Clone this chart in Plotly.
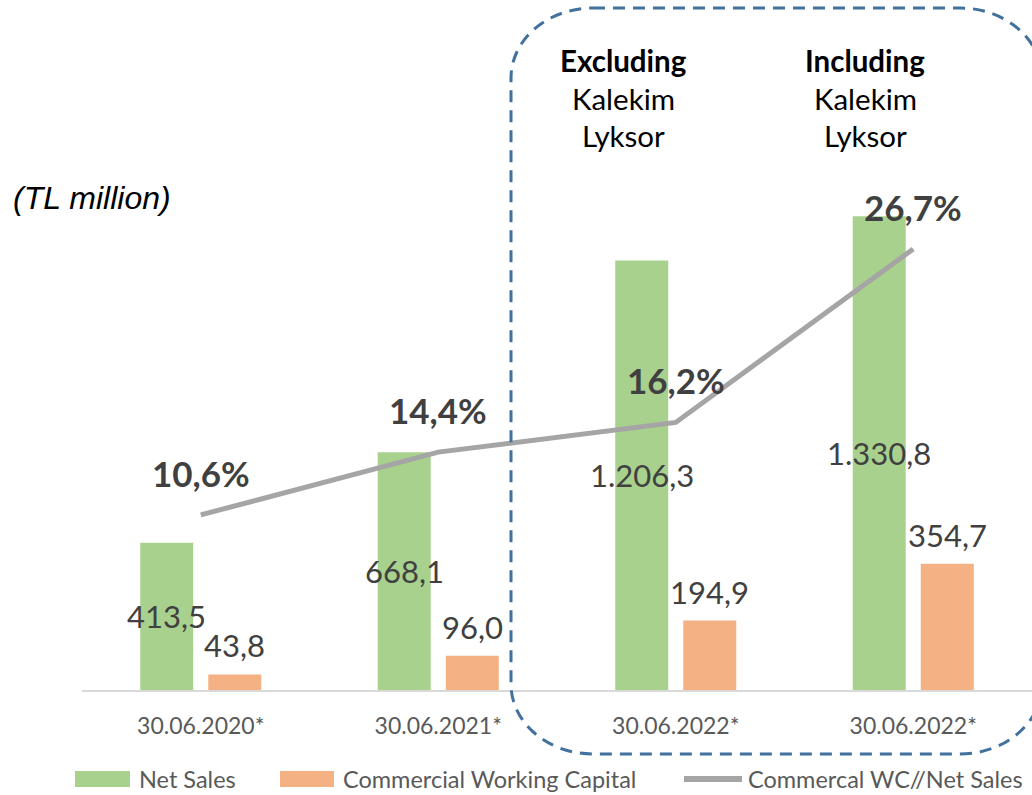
import plotly.graph_objects as go

# Data (TL million)
periods = ["30.06.2020*", "30.06.2021*", "30.06.2022*", "30.06.2022*"]
net_sales = [413.5, 668.1, 1206.3, 1330.8]
working_capital = [43.8, 96.0, 194.9, 354.7]
wc_ratio = [10.6, 14.4, 16.2, 26.7]
scope_titles = ["Excluding", "Including"]
scope_lines = ["Kalekim", "Lyksor"]

GREEN = "#A9D18E"
ORANGE = "#F4B183"
GREY = "#A5A5A5"
TEXT = "#404040"
SOFT = "#595959"
BLUE = "#41719C"
FONT = "Lato"

W, H = 1032, 795
ML, MR, MT, MB = 82, 0, 190, 105
PW, PH = W - ML - MR, H - MT - MB


def px(x, y):
    """Pixel position on the page -> paper coordinates."""
    return (x - ML) / PW, (H - MB - y) / PH


def tr_num(v, suffix=""):
    s = f"{v:,.1f}".replace(",", "X").replace(".", ",").replace("X", ".")
    return s + suffix


xs = list(range(len(periods)))

fig = go.Figure()
fig.add_trace(go.Bar(x=xs, y=net_sales, name="Net Sales",
                     marker=dict(color=GREEN, line=dict(width=0))))
fig.add_trace(go.Bar(x=xs, y=working_capital, name="Commercial Working Capital",
                     marker=dict(color=ORANGE, line=dict(width=0))))
fig.add_trace(go.Scatter(x=xs, y=wc_ratio, yaxis="y2", mode="lines",
                         name="Commercal WC//Net Sales",
                         line=dict(color=GREY, width=5)))

off = 0.143
ann = []
for i, v in enumerate(net_sales):
    ann.append(dict(x=i - off, y=v / 2, xref="x", yref="y", text=tr_num(v),
                    showarrow=False, font=dict(size=31, color=TEXT, family=FONT)))
for i, v in enumerate(working_capital):
    ann.append(dict(x=i + off, y=v, xref="x", yref="y", text=tr_num(v),
                    showarrow=False, yanchor="middle", yshift=29,
                    font=dict(size=31, color=TEXT, family=FONT)))
for i, v in enumerate(wc_ratio):
    ann.append(dict(x=i, y=v, xref="x", yref="y2", text="<b>" + tr_num(v, "%") + "</b>",
                    showarrow=False, yanchor="middle", yshift=42,
                    font=dict(size=35, color=TEXT, family=FONT)))

# Scope headings above the 2022 columns
for cx, title in zip([623, 865], scope_titles):
    rows = ["<b>" + title + "</b>"] + scope_lines
    for k, row in enumerate(rows):
        xp, yp = px(cx, 60 + 38 * k)
        ann.append(dict(x=xp, y=yp, xref="paper", yref="paper", text=row,
                        showarrow=False, xanchor="center", yanchor="middle",
                        font=dict(size=29.5, color="#000000", family=FONT)))

# Unit note
xp, yp = px(92, 198)
ann.append(dict(x=xp, y=yp, xref="paper", yref="paper", text="<i>(TL million)</i>",
                showarrow=False, xanchor="center", yanchor="middle",
                font=dict(size=32, color="#000000", family="Liberation Sans")))

shapes = []

# Legend built from swatches and labels
legend_y = 779
items = [("rect", GREEN, 75, 130, 137, "Net Sales"),
         ("rect", ORANGE, 280, 334, 341, "Commercial Working Capital"),
         ("line", GREY, 684, 742, 746, "Commercal WC//Net Sales")]
for kind, col, a, b, tx, label in items:
    xa, ya = px(a, legend_y - 8)
    xb, yb = px(b, legend_y + 8)
    if kind == "rect":
        shapes.append(dict(type="rect", xref="paper", yref="paper",
                           x0=xa, x1=xb, y0=yb, y1=ya, fillcolor=col,
                           line=dict(width=0)))
    else:
        _, ym = px(a, legend_y)
        shapes.append(dict(type="line", xref="paper", yref="paper",
                           x0=xa, x1=xb, y0=ym, y1=ym, line=dict(color=col, width=6)))
    xt, yt = px(tx, legend_y)
    ann.append(dict(x=xt, y=yt, xref="paper", yref="paper", text=label,
                    showarrow=False, xanchor="left", yanchor="middle",
                    font=dict(size=23.5, color=SOFT, family=FONT)))

# Dashed rounded frame around the 2022 columns
x0, x1, y0, y1, rx, ry = 511, 1042, 8, 754, 82, 70
k = 0.5523


def P(x, y):
    a, b = px(x, y)
    return f"{a:.5f},{b:.5f}"


path = (f"M {P(x0 + rx, y0)} L {P(x1 - rx, y0)} "
        f"C {P(x1 - rx + k * rx, y0)} {P(x1, y0 + ry - k * ry)} {P(x1, y0 + ry)} "
        f"L {P(x1, y1 - ry)} "
        f"C {P(x1, y1 - ry + k * ry)} {P(x1 - rx + k * rx, y1)} {P(x1 - rx, y1)} "
        f"L {P(x0 + rx, y1)} "
        f"C {P(x0 + rx - k * rx, y1)} {P(x0, y1 - ry + k * ry)} {P(x0, y1 - ry)} "
        f"L {P(x0, y0 + ry)} "
        f"C {P(x0, y0 + ry - k * ry)} {P(x0 + rx - k * rx, y0)} {P(x0 + rx, y0)} Z")
shapes.append(dict(type="path", xref="paper", yref="paper", path=path,
                   line=dict(color=BLUE, width=3, dash="12px,8px"),
                   fillcolor="rgba(0,0,0,0)"))

fig.update_layout(
    width=W, height=H,
    margin=dict(l=ML, r=MR, t=MT, b=MB),
    paper_bgcolor="white", plot_bgcolor="white",
    barmode="group", bargap=0.427, bargroupgap=0.221,
    showlegend=False,
    font=dict(family=FONT, color=SOFT),
    xaxis=dict(tickmode="array", tickvals=xs, ticktext=periods, range=[-0.5, 3.5],
               showgrid=False, zeroline=False, showline=True, linecolor="#D9D9D9",
               linewidth=2, ticks="", ticklabelstandoff=14,
               tickfont=dict(size=23, color=SOFT, family=FONT)),
    yaxis=dict(range=[0, 1404.5], visible=False, showgrid=False, zeroline=False),
    yaxis2=dict(range=[0, 30.27], overlaying="y", visible=False, showgrid=False,
                zeroline=False),
    annotations=ann,
    shapes=shapes,
)

fig.write_html("out.html")
